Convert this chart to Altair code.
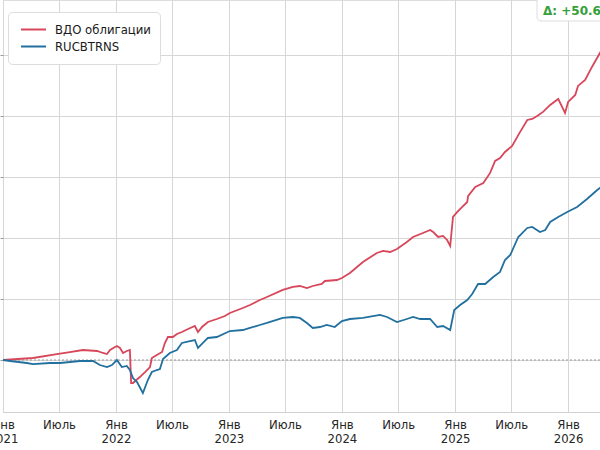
import altair as alt
import pandas as pd

# ---- data (decimal year, cumulative return %) ----
red_t = [2021.000, 2021.265, 2021.478, 2021.593, 2021.708, 2021.832, 2021.885, 2021.920,
         2021.947, 2021.991, 2022.009, 2022.035, 2022.062, 2022.097, 2022.124, 2022.133,
         2022.150, 2022.212, 2022.257, 2022.301, 2022.319, 2022.363, 2022.407, 2022.434,
         2022.460, 2022.504, 2022.540, 2022.584, 2022.637, 2022.699, 2022.726, 2022.761,
         2022.814, 2022.894, 2022.965, 2023.009, 2023.124, 2023.186, 2023.274, 2023.336,
         2023.478, 2023.566, 2023.628, 2023.690, 2023.743, 2023.823, 2023.850, 2023.956,
         2024.000, 2024.071, 2024.186, 2024.310, 2024.363, 2024.425, 2024.487, 2024.575,
         2024.628, 2024.717, 2024.779, 2024.805, 2024.850, 2024.894, 2024.929, 2024.956,
         2024.982, 2025.018, 2025.062, 2025.106, 2025.115, 2025.177, 2025.248, 2025.310,
         2025.354, 2025.398, 2025.442, 2025.504, 2025.575, 2025.637, 2025.681, 2025.726,
         2025.779, 2025.841, 2025.912, 2025.973, 2026.000, 2026.062, 2026.088, 2026.150,
         2026.212, 2026.290]
red_v = [0.00, 0.33, 0.98, 1.31, 1.64, 1.48, 1.15, 0.98,
         1.64, 2.13, 2.30, 1.97, 1.15, 1.48, 1.64, -3.77,
         -3.77, -2.79, -1.97, -1.15, 0.33, 0.82, 1.31, 2.79,
         3.77, 3.77, 4.26, 4.59, 5.08, 5.57, 4.59, 5.41,
         6.23, 6.72, 7.21, 7.70, 8.52, 9.02, 9.84, 10.33,
         11.48, 11.97, 12.13, 11.80, 12.13, 12.46, 12.95, 13.11,
         13.44, 14.26, 16.07, 17.54, 17.87, 17.70, 18.20, 19.34,
         20.16, 20.82, 21.31, 20.98, 20.16, 20.33, 19.67, 18.69,
         23.44, 24.26, 25.08, 25.90, 26.89, 28.36, 29.02, 30.66,
         32.62, 33.11, 34.10, 35.08, 37.38, 39.34, 39.51, 40.00,
         40.66, 41.80, 42.79, 40.49, 42.30, 43.44, 44.92, 45.90,
         48.03, 50.60]

blue_t = [2021.000, 2021.062, 2021.212, 2021.265, 2021.416, 2021.504, 2021.681, 2021.796,
          2021.858, 2021.920, 2021.965, 2022.009, 2022.053, 2022.097, 2022.124, 2022.150,
          2022.186, 2022.239, 2022.283, 2022.319, 2022.363, 2022.389, 2022.416, 2022.478,
          2022.540, 2022.584, 2022.655, 2022.699, 2022.726, 2022.770, 2022.814, 2022.894,
          2023.009, 2023.124, 2023.186, 2023.274, 2023.336, 2023.478, 2023.566, 2023.628,
          2023.690, 2023.743, 2023.805, 2023.867, 2023.938, 2024.000, 2024.071, 2024.186,
          2024.336, 2024.398, 2024.487, 2024.575, 2024.628, 2024.690, 2024.779, 2024.841,
          2024.894, 2024.956, 2024.991, 2025.044, 2025.106, 2025.150, 2025.204, 2025.265,
          2025.336, 2025.398, 2025.442, 2025.487, 2025.558, 2025.637, 2025.681, 2025.752,
          2025.796, 2025.841, 2025.912, 2025.991, 2026.080, 2026.168, 2026.257, 2026.292]
blue_v = [0.00, -0.16, -0.49, -0.66, -0.49, -0.49, -0.16, -0.16,
          -0.82, -1.15, -0.82, 0.00, -1.15, -0.98, -1.64, -2.95,
          -3.61, -5.41, -3.28, -1.97, -1.64, -1.48, 0.16, 1.15,
          1.64, 2.79, 3.11, 3.28, 1.97, 2.79, 3.61, 3.77,
          4.75, 4.92, 5.25, 5.74, 6.07, 6.89, 7.05, 6.89,
          6.07, 5.25, 5.41, 5.74, 5.41, 6.39, 6.72, 6.89,
          7.38, 7.05, 6.23, 6.72, 7.05, 6.72, 6.72, 5.41,
          5.57, 4.92, 8.20, 9.02, 9.84, 10.82, 12.46, 12.46,
          13.61, 14.43, 16.39, 17.21, 20.16, 21.64, 21.80, 20.98,
          21.31, 22.62, 23.44, 24.26, 25.08, 26.39, 27.87, 28.36]

series_names = ["ВДО облигации", "RUCBTRNS"]
series_colors = ["#d8465a", "#22709f"]
y_grid = [0, 10, 20, 30, 40, 50]
tick_years = [2021, 2022, 2023, 2024, 2025, 2026]
delta_text = "Δ: +50.6%"


def to_date(f):
    y = int(f)
    n = 366 if y % 4 == 0 else 365
    d = pd.Timestamp(year=y, month=1, day=1) + pd.Timedelta(days=round((f - y) * n))
    return d.strftime("%Y-%m-%d")


rows = []
for name, ts, vs in [(series_names[0], red_t, red_v), (series_names[1], blue_t, blue_v)]:
    for t, v in zip(ts, vs):
        rows.append({"date": to_date(t), "value": v, "series": name})
df = pd.DataFrame(rows)

tick_values = []
for yr in tick_years:
    tick_values.append(alt.DateTime(year=yr, month=1, date=1, utc=True))
    if yr < tick_years[-1]:
        tick_values.append(alt.DateTime(year=yr, month=7, date=1, utc=True))

FONT = "DejaVu Sans"

x_scale = alt.Scale(type="utc",
                    domain=[alt.DateTime(year=2021, month=1, date=1, utc=True),
                            alt.DateTime(year=2026, month=4, date=14, utc=True)])
y_scale = alt.Scale(domain=[-8.52, 59.0], nice=False, zero=False)

x_axis = alt.Axis(values=tick_values, title=None, grid=True, gridColor="#d6d6d6",
                  gridWidth=1, tickSize=0, domainColor="#d0d0d0",
                  labelFont=FONT, labelFontSize=11.7, labelColor="#262626",
                  labelPadding=7, labelLineHeight=14, labelOverlap=False,
                  labelFlush=False,
                  labelExpr="utcFormat(datum.value, '%m') == '01' ? ['Янв', utcFormat(datum.value, '%Y')] : 'Июль'")
y_axis = alt.Axis(values=y_grid, labels=False, title=None, domain=False,
                  tickSize=3, tickColor="#999999", grid=True, gridColor="#d6d6d6")

lines = alt.Chart(df).mark_line(strokeWidth=1.8, clip=True).encode(
    x=alt.X("date:T", scale=x_scale, axis=x_axis),
    y=alt.Y("value:Q", scale=y_scale, axis=y_axis),
    color=alt.Color("series:N",
                    scale=alt.Scale(domain=series_names, range=series_colors),
                    sort=series_names,
                    legend=alt.Legend(orient="none", legendX=5, legendY=12, title=None,
                                      symbolType="stroke", symbolSize=625,
                                      symbolStrokeWidth=2, labelFont=FONT,
                                      labelFontSize=11.7, labelColor="#1a1a1a",
                                      fillColor="white", strokeColor="#dddddd",
                                      cornerRadius=4, padding=9, clipHeight=17,
                                      symbolOffset=3, labelOffset=8,
                                      rowPadding=0)),
)

zero = alt.Chart(pd.DataFrame({"value": [0]})).mark_rule(
    color="#999999", strokeWidth=1, strokeDash=[2, 2]).encode(
    y=alt.Y("value:Q", scale=y_scale))

box = alt.Chart(pd.DataFrame({"t": [delta_text]})).mark_rect(
    fill="white", stroke="#dddddd", strokeWidth=1, cornerRadius=4).encode(
    x=alt.value(534), x2=alt.value(680), y=alt.value(-6), y2=alt.value(21))

label = alt.Chart(pd.DataFrame({"t": [delta_text]})).mark_text(
    align="left", baseline="middle", font=FONT, fontSize=12, fontWeight="bold",
    color="#35a03a").encode(x=alt.value(540), y=alt.value(11), text="t:N")

chart = alt.layer(zero, lines, box, label).properties(
    width=597, height=412,
    padding={"left": 3, "top": 0, "right": 0, "bottom": 38},
    autosize=alt.AutoSizeParams(type="none"),
    background="white",
).configure_view(stroke=None).configure(font=FONT)

chart.save("out.html", embed_options={"renderer": "svg", "actions": False})
